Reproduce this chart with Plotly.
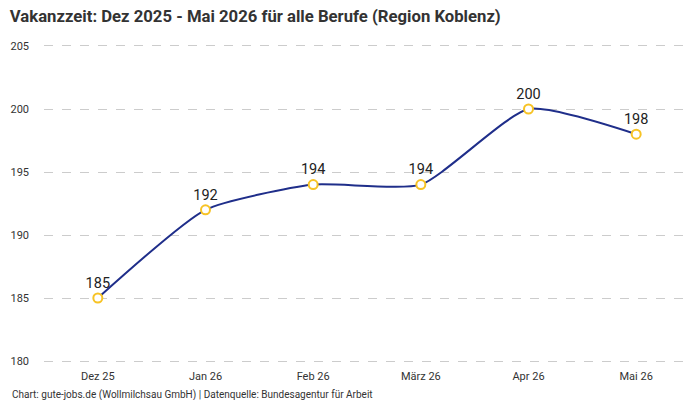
import plotly.graph_objects as go

categories = ["Dez 25", "Jan 26", "Feb 26", "März 26", "Apr 26", "Mai 26"]
values = [185, 192, 194, 194, 200, 198]
y_ticks = [180, 185, 190, 195, 200, 205]

fig = go.Figure()
fig.add_trace(go.Scatter(
    x=categories, y=values,
    mode="lines+markers+text",
    line=dict(color="#1f2e8a", width=2, shape="spline", smoothing=0.55),
    marker=dict(size=9, color="white", line=dict(color="#f7c325", width=2)),
    text=[str(v) for v in values],
    textposition="top center",
    textfont=dict(size=14.5, color="#222222", family="Roboto"),
    cliponaxis=False,
    hoverinfo="x+y",
))

fig.update_layout(
    width=700, height=400,
    margin=dict(l=44, r=10, t=42, b=35),
    paper_bgcolor="white", plot_bgcolor="white",
    showlegend=False,
    font=dict(family="Roboto", color="#333333", size=11),
    title=dict(text="<b>Vakanzzeit: Dez 2025 - Mai 2026 für alle Berufe (Region Koblenz)</b>",
               x=0.014, xanchor="left", y=0.975, yanchor="top",
               font=dict(size=16.7, color="#333333", family="Roboto")),
    xaxis=dict(type="category", range=[-0.5, 5.5], showgrid=False, showline=False,
               zeroline=False, ticks="", ticklabelstandoff=3,
               tickfont=dict(size=11, color="#333333")),
    yaxis=dict(range=[179.683, 205.317], tickvals=y_ticks, showgrid=True, gridcolor="#cccccc",
               griddash="dash", gridwidth=1, zeroline=False, showline=False,
               ticks="", ticklabelstandoff=14, tickfont=dict(size=11, color="#333333")),
    annotations=[dict(text="Chart: gute-jobs.de (Wollmilchsau GmbH) | Datenquelle: Bundesagentur für Arbeit",
                      xref="paper", yref="paper", x=-0.052, y=-0.093, xanchor="left", yanchor="middle",
                      showarrow=False, font=dict(size=10, color="#333333"))],
)

fig.write_html("out.html")
